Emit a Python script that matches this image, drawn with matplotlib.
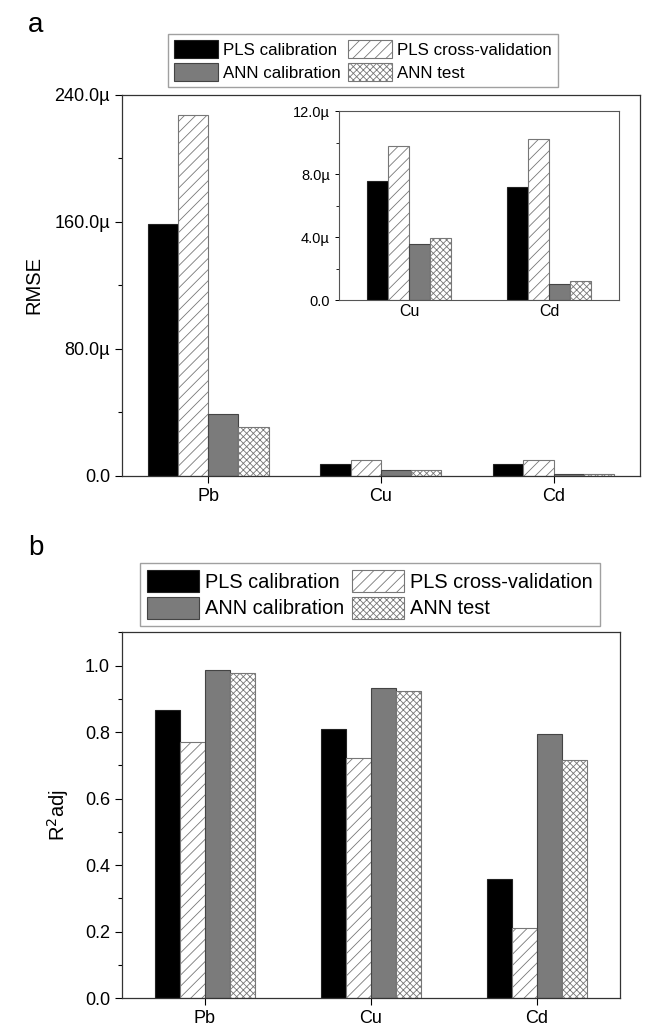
import matplotlib
matplotlib.use("Agg")
import matplotlib.pyplot as plt
from matplotlib.ticker import FuncFormatter, MultipleLocator
import numpy as np

plt.rcParams['font.family'] = ['Liberation Sans', 'DejaVu Sans']
plt.rcParams['hatch.linewidth'] = 0.6

# data
metals = ['Pb', 'Cu', 'Cd']
inset_metals = ['Cu', 'Cd']
series = ['PLS calibration', 'PLS cross-validation', 'ANN calibration', 'ANN test']

rmse_pls_cal = [158.7e-6, 7.58e-6, 7.16e-6]
rmse_pls_cv = [227.5e-6, 9.81e-6, 10.24e-6]
rmse_ann_cal = [39.0e-6, 3.53e-6, 1.02e-6]
rmse_ann_test = [30.9e-6, 3.95e-6, 1.21e-6]

r2_pls_cal = [0.867, 0.809, 0.358]
r2_pls_cv = [0.771, 0.721, 0.210]
r2_ann_cal = [0.988, 0.934, 0.793]
r2_ann_test = [0.977, 0.924, 0.716]

styles = [
    dict(color='black', edgecolor='#222222', hatch=None),
    dict(color='white', edgecolor='#777777', hatch='///'),
    dict(color='#7b7b7b', edgecolor='#444444', hatch=None),
    dict(color='white', edgecolor='#777777', hatch='xxxxx'),
]


def draw_bars(ax, values, width, pos):
    bars = []
    for i, (vals, st) in enumerate(zip(values, styles)):
        off = (i - 1.5) * width
        b = ax.bar(pos + off, vals, width, color=st['color'], edgecolor=st['edgecolor'],
                   hatch=st['hatch'], linewidth=0.8, label=series[i])
        bars.append(b)
    return bars


def micro(v, p):
    if abs(v) < 1e-12:
        return '0.0'
    return f'{v * 1e6:.1f}\u00b5'


def add_legend(bars, anchor, size):
    # legend fills by column, so order them to read row by row
    order = [0, 2, 1, 3]
    fig.legend(handles=[bars[i] for i in order], labels=[series[i] for i in order],
               ncol=2, loc='upper center', bbox_to_anchor=anchor, fontsize=size,
               frameon=True, fancybox=False, edgecolor='#888888', handlelength=2.6,
               handleheight=1.3, columnspacing=0.4, handletextpad=0.3,
               labelspacing=0.25, borderpad=0.35, borderaxespad=0)


fig = plt.figure(figsize=(6.45, 10.30), dpi=100)

# ---- panel a
ax1 = fig.add_axes([0.189, 0.538, 0.803, 0.370])
x = np.arange(1, len(metals) + 1)
bars = draw_bars(ax1, [rmse_pls_cal, rmse_pls_cv, rmse_ann_cal, rmse_ann_test], 0.175, x)
ax1.set_xlim(0.5, 3.5)
ax1.set_ylim(0, 240e-6)
ax1.yaxis.set_major_locator(MultipleLocator(80e-6))
ax1.yaxis.set_minor_locator(MultipleLocator(40e-6))
ax1.yaxis.set_major_formatter(FuncFormatter(micro))
ax1.set_xticks(x)
ax1.set_xticklabels(metals)
ax1.set_ylabel('RMSE', fontsize=14.5, labelpad=8)
ax1.tick_params(axis='both', labelsize=13, direction='out', length=5, width=0.8)
ax1.tick_params(axis='y', which='minor', direction='out', length=3, width=0.8)
for s in ax1.spines.values():
    s.set_linewidth(0.9)
    s.set_color('#333333')

add_legend(bars, (363 / 645, 1 - 34 / 1030), 12.2)

# inset
axi = fig.add_axes([0.5256, 0.7087, 0.434, 0.1835])
xi = np.arange(1, len(inset_metals) + 1)
draw_bars(axi, [rmse_pls_cal[1:], rmse_pls_cv[1:], rmse_ann_cal[1:], rmse_ann_test[1:]], 0.15, xi)
axi.set_xlim(0.5, 2.5)
axi.set_ylim(0, 12e-6)
axi.yaxis.set_major_locator(MultipleLocator(4e-6))
axi.yaxis.set_minor_locator(MultipleLocator(2e-6))
axi.yaxis.set_major_formatter(FuncFormatter(micro))
axi.set_xticks(xi)
axi.set_xticklabels(inset_metals)
axi.tick_params(axis='x', labelsize=11.5, length=0, pad=3)
axi.tick_params(axis='y', labelsize=10.5, direction='out', length=3, width=0.7)
axi.tick_params(axis='y', which='minor', direction='out', length=2, width=0.6)
for s in axi.spines.values():
    s.set_linewidth(0.8)
    s.set_color('#555555')

fig.text(28 / 645, 1 - 25 / 1030, 'a', fontsize=20, ha='left', va='center')

# ---- panel b
ax2 = fig.add_axes([0.189, 0.031, 0.772, 0.355])
bars2 = draw_bars(ax2, [r2_pls_cal, r2_pls_cv, r2_ann_cal, r2_ann_test], 0.15, x)
ax2.set_xlim(0.5, 3.5)
ax2.set_ylim(0, 1.1)
ax2.yaxis.set_major_locator(MultipleLocator(0.2))
ax2.yaxis.set_minor_locator(MultipleLocator(0.1))
ax2.yaxis.set_major_formatter(FuncFormatter(lambda v, p: f'{v:.1f}'))
ax2.set_xticks(x)
ax2.set_xticklabels(metals)
ax2.set_ylabel('R$^2$adj', fontsize=14.5, labelpad=10)
ax2.tick_params(axis='both', labelsize=13, direction='out', length=5, width=0.8)
ax2.tick_params(axis='y', which='minor', direction='out', length=3, width=0.8)
for s in ax2.spines.values():
    s.set_linewidth(0.9)
    s.set_color('#333333')

add_legend(bars2, (370 / 645, 1 - 563 / 1030), 14.4)

fig.text(28 / 645, 1 - 548 / 1030, 'b', fontsize=20, ha='left', va='center')

fig.savefig('out.png', dpi=100)
